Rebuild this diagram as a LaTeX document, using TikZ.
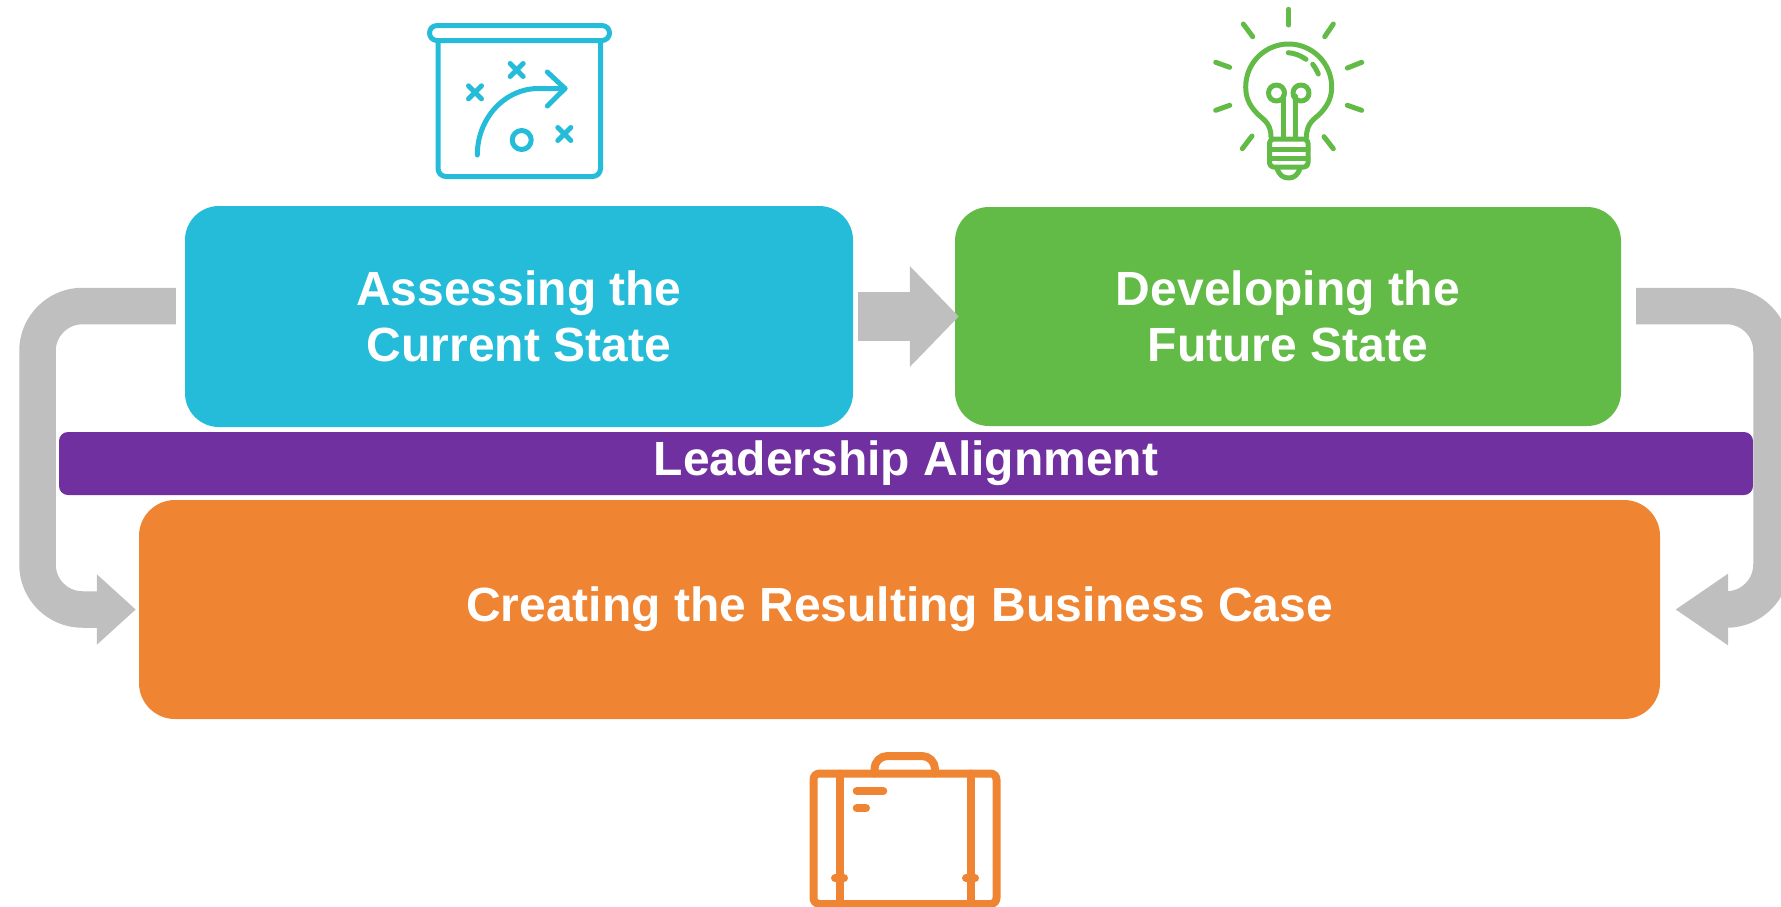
\documentclass[tikz,border=0pt]{standalone}
\usepackage{fontspec}
\setmainfont{Liberation Sans}
\usetikzlibrary{arrows.meta}
\definecolor{tealblue}{HTML}{24BCD8}
\definecolor{leafgreen}{HTML}{62BB46}
\definecolor{royalpurple}{HTML}{7030A0}
\definecolor{caseorange}{HTML}{EF8433}
\definecolor{flowgray}{HTML}{BFBFBF}
\tikzset{
  stage/.style={inner sep=0pt, text=white, align=center, font=\fontsize{48}{56}\bfseries\selectfont},
  flow/.style={draw=flowgray, line cap=butt, line join=miter},
  icon/.style={line width=5pt, line cap=round, line join=round}
}
\begin{document}
\begin{tikzpicture}[x=1pt, y=-1pt, line join=round, line cap=round]
            \clip(0,0)rectangle(1781,906);
            \node[stage, fill=tealblue, rounded corners=34pt, minimum width=668pt, minimum height=221pt](assess)at(519,316.5){Assessing the\\Current State};
            \node[stage, fill=leafgreen, rounded corners=34pt, minimum width=666pt, minimum height=219pt](develop)at(1288,316.5){Developing the\\Future State};
            \node[stage, fill=caseorange, rounded corners=36pt, minimum width=1521pt, minimum height=219pt](casebox)at(899.5,609.5){Creating the Resulting Business Case};
            \node[stage, fill=royalpurple, rounded corners=9pt, minimum width=1694pt, minimum height=63pt](align)at(906,463.5){Leadership Alignment};
            \coordinate(leftbend)at(37.5,609.5);
            \coordinate(rightbend)at(1771.5,609.5);
            % block arrows
            \draw[flow, line width=49pt, shorten <=5pt, shorten >=-4pt, -{Triangle[length=49pt, width=98pt]}](assess.east)--(develop.west);
            \draw[flow, line width=36.5pt, rounded corners=45pt, shorten <=9pt, shorten >=3pt, -{Triangle[length=39pt, width=68pt]}]([yshift=10.5pt]assess.west)-|(leftbend)--(casebox.west);
            \draw[flow, line width=36.5pt, rounded corners=45pt, shorten <=15pt, shorten >=15pt, -{Triangle[length=53pt, width=68pt]}]([yshift=10.5pt]develop.east)-|(rightbend)--(casebox.east);
            % board icon
            \begin{scope}[icon, draw=tealblue]
                \draw[rounded corners=7.5pt](429.5,25.5)rectangle(609.5,40.5);
                \draw[rounded corners=8pt](438,40.5)--(438,176.5)--(600.5,176.5)--(600.5,40.5);
                \foreach \cx/\cy in {475/92.3, 516.7/70, 564.3/134}{
                    \draw(\cx-6.5,\cy-6.5)--(\cx+6.5,\cy+6.5);
                    \draw(\cx-6.5,\cy+6.5)--(\cx+6.5,\cy-6.5);
                }
                \draw(521.7,140)circle(9.5);
                \draw(477.3,155)..controls(477.3,118)and(505,88.5)..(538.3,88.5)--(565,88.5);
                \draw(547.3,72)--(565,88.5)--(547.3,106);
            \end{scope}
            % bulb icon
            \begin{scope}[icon, draw=leafgreen]
                \draw(1271,137)..controls(1271,122)and(1262,119)..(1256.7,113)..controls(1249,105)and(1245.7,97)..(1245.7,87)..controls(1245.7,63)and(1265,44)..(1288.7,44)..controls(1312,44)and(1331.7,63)..(1331.7,87)..controls(1331.7,97)and(1328,105)..(1320.7,113)..controls(1315,119)and(1306.5,122)..(1306.5,137);
                \draw[rounded corners=4pt](1269.5,139)--(1269.5,167)--(1308,167)--(1308,139)--cycle;
                \draw(1269.5,149)--(1308,149);
                \draw(1269.5,158)--(1308,158);
                \draw(1277,168)..controls(1279,175)and(1283,178)..(1288.7,178)..controls(1294,178)and(1298,175)..(1300,168);
                \draw(1276.5,93)circle(8);
                \draw(1301,93)circle(8);
                \draw(1283,96)--(1283,137);
                \draw(1295,96)--(1295,137);
                \draw(1288.3,52.7)..controls(1295,53)and(1301,56)..(1306,59.3);
                \draw(1312.7,64.3)..controls(1315,67)and(1317,71)..(1318.3,74);
                \foreach \ax/\ay/\bx/\by in {1288.7/9.3/1288.7/25, 1243.3/24/1252.7/36.7, 1333.3/24/1324.7/36.7, 1215.7/62.3/1229.7/67.3, 1361.7/62.3/1347.3/68, 1215.7/110.3/1229.7/105.3, 1361.7/110.3/1347.3/105.3, 1242.3/148.7/1252/136, 1333.3/148.7/1324/136.7}{
                    \draw(\ax,\ay)--(\bx,\by);
                }
            \end{scope}
            % case icon
            \begin{scope}[icon, line width=8pt, draw=caseorange]
                \draw[rounded corners=6pt](813.5,773.5)rectangle(996.5,904);
                \draw[rounded corners=13pt](874.5,773.5)--(874.5,756)--(935,756)--(935,773.5);
                \draw(839.5,773.5)--(839.5,904);
                \draw(970.5,773.5)--(970.5,904);
                \draw(856.7,791)--(883.3,791);
                \draw(856.7,808.3)--(866,808.3);
                \draw(835,878.3)--(844,878.3);
                \draw(966,878.3)--(975,878.3);
            \end{scope}
        \end{tikzpicture}
\end{document}
